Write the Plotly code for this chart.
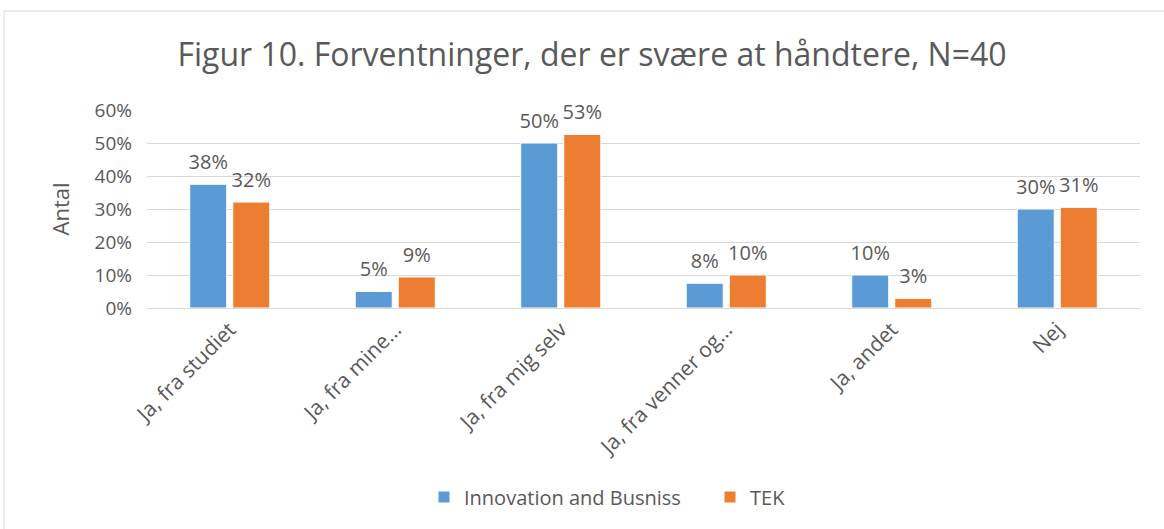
import plotly.graph_objects as go

categories = ["Ja, fra studiet", "Ja, fra mine…", "Ja, fra mig selv",
              "Ja, fra venner og…", "Ja, andet", "Nej"]
innovation = [37.5, 5.0, 50.0, 7.5, 10.0, 30.0]
tek = [32.1, 9.4, 52.6, 10.0, 2.9, 30.5]
y_ticks = [0, 10, 20, 30, 40, 50, 60]

TEXT = "#595959"
FONT = "Open Sans"

fig = go.Figure()
for name, vals, col in [("Innovation and Busniss", innovation, "#5B9BD5"),
                        ("TEK", tek, "#ED7D31")]:
    fig.add_trace(go.Bar(
        x=categories, y=vals, name=name,
        marker=dict(color=col, line=dict(color="#FFFFFF", width=1)),
        # blank second line (small base font) lifts the label off the bar, like Excel
        texttemplate="<span style='font-size:20px'>%{y:.0f}%</span><br> ",
        textposition="outside", constraintext="none",
        textfont=dict(size=8, color=TEXT, family=FONT), cliponaxis=False,
    ))

# outer chart border (Excel style)
L, R, T, B = 147, 24, 110, 221
pw, ph = 1164 - L - R, 529 - T - B
fig.add_shape(type="rect", xref="paper", yref="paper",
              x0=(4 - L) / pw, x1=(1200 - L) / pw,
              y0=(308 - 560) / ph, y1=(308 - 11) / ph,
              line=dict(color="#D9D9D9", width=1), fillcolor="rgba(0,0,0,0)",
              layer="below")

fig.update_layout(
    width=1164, height=529,
    margin=dict(l=L, r=R, t=T, b=B),
    paper_bgcolor="white", plot_bgcolor="white",
    font=dict(family=FONT, color=TEXT),
    title=dict(text="Figur 10. Forventninger, der er svære at håndtere, N=40",
               x=592 / 1164, xanchor="center", y=1 - 55 / 529, yanchor="middle",
               font=dict(size=32, color=TEXT, family=FONT)),
    barmode="group", bargap=0.48, bargroupgap=0.14,
    xaxis=dict(tickangle=-45, tickfont=dict(size=21, color=TEXT),
               showline=True, linecolor="#D9D9D9", linewidth=1, ticks=""),
    yaxis=dict(range=[0, 60], tickvals=y_ticks,
               ticktext=[f"{v}%" for v in y_ticks],
               tickfont=dict(size=19, color=TEXT), ticklabelstandoff=14,
               gridcolor="#D9D9D9", gridwidth=1, zeroline=False,
               title=dict(text="Antal", font=dict(size=22, color=TEXT), standoff=18)),
    legend=dict(orientation="h", x=(424 - L) / pw, xanchor="left", y=(308 - 497) / ph,
                yanchor="middle", font=dict(size=20, color=TEXT),
                itemwidth=30, entrywidth=241),
    showlegend=True,
)

fig.write_html("out.html", config={"displayModeBar": False},
               post_script="document.body.style.margin='0';")
